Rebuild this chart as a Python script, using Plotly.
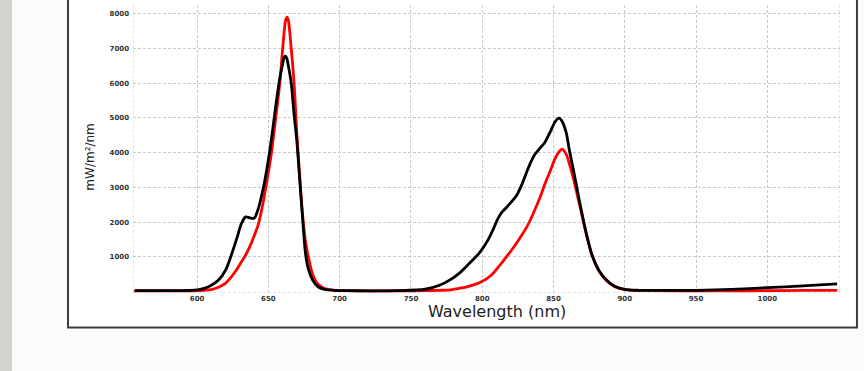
import plotly.graph_objects as go

wavelength = [556, 570, 585, 595, 600, 605, 610, 615, 620, 624, 628, 631, 634, 637, 640, 643, 646, 649, 652, 655,
              658, 660, 661, 662, 663, 664, 666, 668, 670, 672, 674, 676, 678, 681, 685, 690, 696, 705, 720, 740,
              760, 770, 778, 784, 790, 798, 804, 808, 811, 814, 817, 820, 824, 828, 831, 834, 837, 841, 844, 848,
              851, 854, 856, 859, 861, 864, 868, 873, 877, 882, 887, 893, 900, 910, 925, 950, 975, 1000, 1025, 1049]

black = [25, 25, 25, 30, 45, 90, 180, 330, 620, 1050, 1550, 1950, 2150, 2120, 2110, 2400, 2900, 3550, 4350, 5300,
         6150, 6550, 6740, 6780, 6700, 6500, 6000, 5100, 4300, 3200, 2100, 1100, 650, 330, 130, 55, 35, 25, 20, 25,
         65, 180, 350, 530, 770, 1110, 1480, 1820, 2100, 2290, 2420, 2560, 2760, 3100, 3420, 3720, 3950, 4150, 4300, 4620,
         4880, 4990, 4900, 4560, 4100, 3500, 2650, 1680, 1050, 600, 340, 150, 60, 35, 30, 35, 60, 110, 160, 220]

red = [20, 20, 20, 20, 25, 35, 55, 120, 240, 420, 650, 850, 1050, 1300, 1600, 1950, 2500, 3200, 3950, 4950,
       6000, 7000, 7450, 7800, 7900, 7800, 7000, 6000, 4500, 3300, 2200, 1450, 1000, 500, 200, 80, 40, 25, 20, 20,
       25, 35, 50, 90, 140, 250, 390, 540, 690, 840, 1000, 1160, 1390, 1640, 1840, 2080, 2360, 2760, 3100, 3500,
       3820, 4030, 4100, 3950, 3700, 3250, 2550, 1650, 1050, 580, 320, 140, 55, 30, 25, 20, 20, 25, 30, 30]

x_ticks = [600, 650, 700, 750, 800, 850, 900, 950, 1000]
y_ticks = [1000, 2000, 3000, 4000, 5000, 6000, 7000, 8000]

X_RANGE = [555, 1051]
Y_RANGE = [-43, 8250]
GRID = '#c9c9c9'

fig = go.Figure()
fig.add_trace(go.Scatter(x=wavelength, y=red, mode='lines',
                         line=dict(color='#ff0000', width=2.8, shape='spline', smoothing=0.8)))
fig.add_trace(go.Scatter(x=wavelength, y=black, mode='lines',
                         line=dict(color='#000000', width=2.8, shape='spline', smoothing=0.8)))

tick_font = dict(family='DejaVu Sans', size=7, color='#333333', weight='bold')

fig.update_layout(
    width=864, height=371,
    margin=dict(l=133, r=24, t=5, b=78),
    paper_bgcolor='#fdfafa',
    plot_bgcolor='white',
    showlegend=False,
    xaxis=dict(range=X_RANGE, tickvals=x_ticks, showgrid=True, gridcolor=GRID, griddash='3px,2px',
               gridwidth=1, zeroline=False, showline=False, ticks='', tickfont=tick_font),
    yaxis=dict(range=Y_RANGE, tickvals=y_ticks, showgrid=True, gridcolor=GRID, griddash='3px,2px',
               gridwidth=1, zeroline=False, showline=False, ticks='', tickfont=tick_font, ticklabelstandoff=3),
)

# outer frame, grey strip and dashed plot border
fig.add_shape(type='rect', xref='paper', yref='paper', x0=-0.0919, x1=1.024, y0=-0.1196, y1=1.2,
              fillcolor='white', line=dict(color='#3a3d42', width=2), layer='below')
fig.add_shape(type='rect', xref='paper', yref='paper', x0=-0.2, x1=-0.1711, y0=-0.5, y1=1.5,
              fillcolor='#d3d3cf', line=dict(width=0), layer='below')
for x0, x1, y0, y1 in [(X_RANGE[0], X_RANGE[0], Y_RANGE[0], Y_RANGE[1]),
                       (X_RANGE[1], X_RANGE[1], Y_RANGE[0], Y_RANGE[1]),
                       (X_RANGE[0], X_RANGE[1], Y_RANGE[0], Y_RANGE[0])]:
    fig.add_shape(type='line', x0=x0, x1=x1, y0=y0, y1=y1,
                  line=dict(color=GRID, width=1, dash='3px,2px'), layer='below')

fig.add_annotation(text='mW/m²/nm', xref='paper', yref='paper', x=-0.061, y=0.473, textangle=-90,
                   xanchor='center', yanchor='middle', showarrow=False,
                   font=dict(family='DejaVu Sans', size=12, color='#222222'))
fig.add_annotation(text='Wavelength (nm)', xref='paper', yref='paper', x=0.515, y=-0.064,
                   xanchor='center', yanchor='middle', showarrow=False,
                   font=dict(family='DejaVu Sans', size=16, color='#222222'))

fig.write_html('out.html', config={'displayModeBar': False},
               post_script="document.body.style.margin='0';")
